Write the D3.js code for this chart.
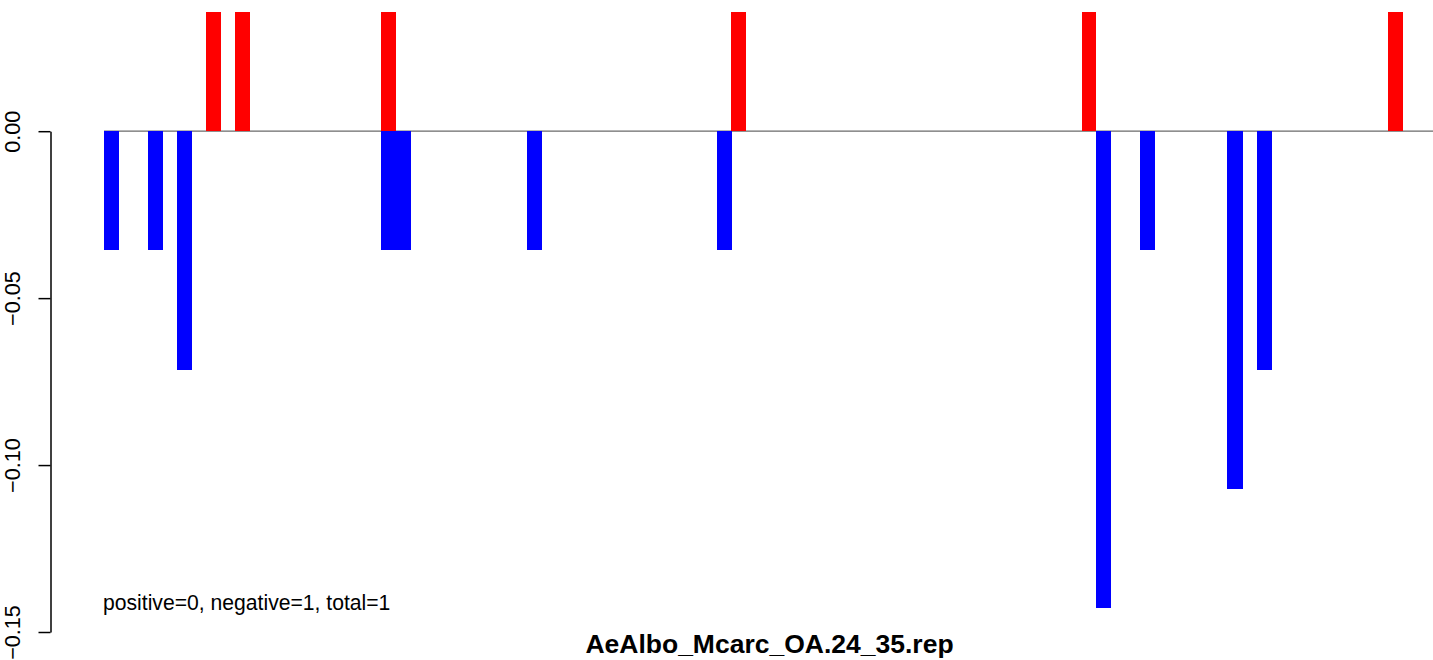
<!DOCTYPE html>
<html>
<head>
<meta charset="utf-8">
<script src="https://cdn.jsdelivr.net/npm/d3@7"></script>
<style>
  html, body { margin: 0; padding: 0; background: #fff; }
  svg { display: block; }
  text { font-family: "Liberation Sans", Arial, sans-serif; fill: #000; }
</style>
</head>
<body>
<svg id="chart" width="1433" height="660"></svg>
<script>
// ---- data ----
const slotCount = 91;
const redSlots = [7, 9, 19, 43, 67, 88];
const redValues = [0.0357, 0.0357, 0.0357, 0.0357, 0.0357, 0.0357];
const blueSlots = [0, 3, 5, 19, 20, 29, 42, 68, 71, 77, 79];
const blueValues = [-0.0357, -0.0357, -0.0714, -0.0357, -0.0357, -0.0357, -0.0357, -0.1429, -0.0357, -0.1071, -0.0714];
const yTicks = [-0.15, -0.10, -0.05, 0.00];
const titleText = "AeAlbo_Mcarc_OA.24_35.rep";
const noteText = "positive=0, negative=1, total=1";

// ---- layout ----
const W = 1433, H = 660;
const svg = d3.select("#chart");

const x = d3.scaleBand()
  .domain(d3.range(slotCount))
  .range([104, 1431.7])
  .paddingInner(0).paddingOuter(0);

const y = d3.scaleLinear()
  .domain([-0.15, 0.0357])
  .range([632, 12]);

// zero line
svg.append("line")
  .attr("x1", x(0)).attr("x2", W)
  .attr("y1", y(0)).attr("y2", y(0))
  .attr("stroke", "#6a6a6a").attr("stroke-width", 1.3);

// bars
const redData = redSlots.map((s, i) => ({ s, v: redValues[i] }));
const blueData = blueSlots.map((s, i) => ({ s, v: blueValues[i] }));

svg.append("g").attr("shape-rendering", "crispEdges")
  .selectAll("rect").data(redData).join("rect")
  .attr("x", d => x(d.s))
  .attr("width", x.bandwidth())
  .attr("y", d => y(d.v))
  .attr("height", d => y(0) - y(d.v))
  .attr("fill", "#ff0000");

svg.append("g").attr("shape-rendering", "crispEdges")
  .selectAll("rect").data(blueData).join("rect")
  .attr("x", d => x(d.s))
  .attr("width", x.bandwidth() + 0.5)
  .attr("y", y(0))
  .attr("height", d => y(d.v) - y(0))
  .attr("fill", "#0000ff");

// y axis
const axisX = 50.5;
const axisScale = y.copy().domain([-0.15, 0]).range([y(-0.15), y(0)]);
const axisG = svg.append("g")
  .attr("transform", `translate(${axisX},0)`)
  .call(d3.axisLeft(axisScale)
    .tickValues(yTicks)
    .tickSize(12)
    .tickSizeOuter(0)
    .tickFormat(d3.format(".2f")));
axisG.select(".domain").attr("stroke", "#000").attr("stroke-width", 1.5);
axisG.selectAll(".tick line").attr("stroke", "#000").attr("stroke-width", 1.5);
axisG.selectAll(".tick text")
  .attr("transform", "rotate(-90)")
  .attr("x", 0)
  .attr("y", -(axisX - 20))
  .attr("dy", 0)
  .attr("text-anchor", "middle")
  .style("font-family", "'Liberation Sans', Arial, sans-serif")
  .style("font-size", "21.6px")
  .attr("fill", "#000");

// annotation
svg.append("text")
  .attr("x", 103).attr("y", 610)
  .style("font-size", "21.15px")
  .text(noteText);

// title
svg.append("text")
  .attr("x", 769.5).attr("y", 653)
  .attr("text-anchor", "middle")
  .style("font-size", "26.5px")
  .style("font-weight", "bold")
  .text(titleText);
</script>
</body>
</html>
